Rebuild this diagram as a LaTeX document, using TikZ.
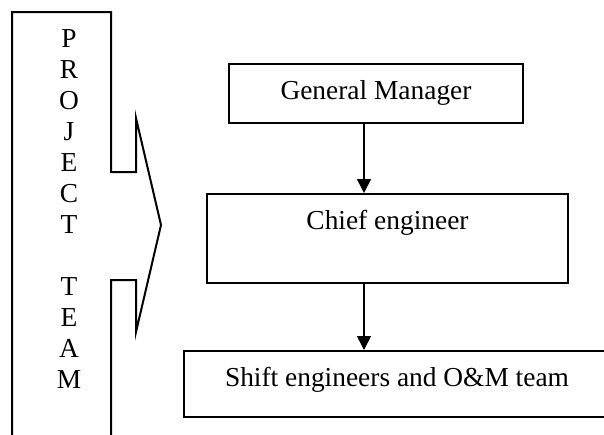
\documentclass[tikz,border=0pt]{standalone}
\usepackage{fontspec}
\setmainfont{Liberation Serif}
\usetikzlibrary{arrows.meta, positioning}

\tikzset{
  orgbox/.style={draw=black, line width=1pt, anchor=north west, inner xsep=0pt, inner ysep=0pt, text height=17.5pt},
  orgarrow/.style={line width=0.75pt, -{Triangle[width=7pt,length=7pt]}}
}

\begin{document}
\begin{tikzpicture}[x=0.5pt, y=-0.5pt, font=\fontsize{13.7pt}{15.5pt}\selectfont]
          \useasboundingbox (0,0) rectangle (604,434);
          \clip (0,0) rectangle (604,434);
          % Project team
          \draw[black, line width=1pt] (12,440) -- (12,12) -- (111,12) -- (111,172) -- (136,172) -- (136,118)
            -- (161,225) -- (136,332) -- (136,280) -- (111,280) -- (111,440);
          \foreach \ch [count=\i] in {P,R,O,J,E,C,T,{},T,E,A,M}
            \node[anchor=base, inner sep=0pt] (team\i) at (69,{47+31*(\i-1)}) {\ch};
          % Boxes
          \node[orgbox, minimum width=147pt, text depth=12pt] (gm) at (228,63) {General Manager};
          \node[orgbox, minimum width=180.5pt, text depth=27pt] (chief) at (206,193) {Chief engineer};
          \node[orgbox, minimum width=213pt, text depth=15.5pt] (shift) at (183,350) {Shift engineers and O\&M team};
          % Arrows
          \coordinate (ax) at (364,0);
          \draw[orgarrow] (gm.south -| ax) -- (chief.north -| ax);
          \draw[orgarrow] (chief.south -| ax) -- (shift.north -| ax);
        \end{tikzpicture}
\end{document}
